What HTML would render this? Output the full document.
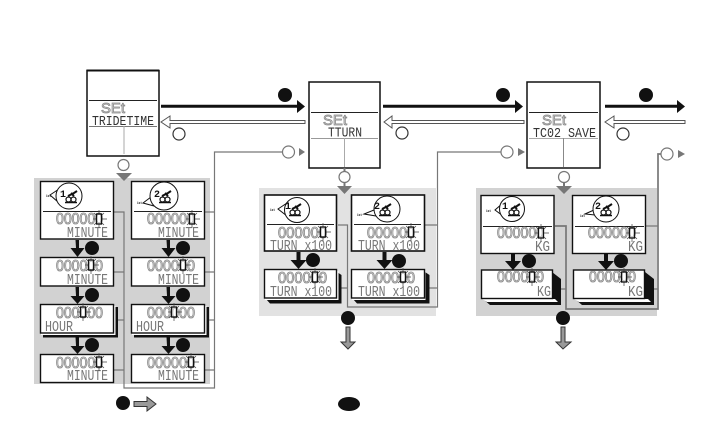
<!DOCTYPE html>
<html><head><meta charset="utf-8"><style>
html,body{margin:0;padding:0;background:#fff}
svg{display:block}
text{font-family:"Liberation Mono",monospace}
.d{font-family:"Liberation Sans",sans-serif;font-size:15.500px;fill:#f4f4f4;stroke:#888;stroke-width:.85}
.l{font-size:14.500px;fill:#777;stroke:none}
.s{font-family:"Liberation Sans",sans-serif;font-size:15px;fill:#ddd;stroke:#888;stroke-width:.8}
.t{font-size:13.500px;fill:#333;stroke:none}
.n{font-size:10px;fill:#111;font-weight:bold}
.i{font-size:4px;fill:#222;font-weight:bold}
</style></head><body>
<svg width="720" height="442" viewBox="0 0 720 442" xmlns="http://www.w3.org/2000/svg">
<defs>
<g id="star" fill="none">
<path d="M0-9V-5M0 5V9M-6 0H-3M3 0H8M-5-6L-3-4M5-6L3-4M-5 6L-3 4M5 6L3 4" stroke-width=".7" stroke="#444"/>
<rect x="-2.500" y="-5" width="5" height="10" fill="#fff" fill-opacity=".4" stroke="#111" stroke-width="1.300"/>
</g>
<g id="bike" fill="none" stroke="#111">
<path d="M-6 5.500H6" stroke-width="1.500"/>
<circle cx="-2.500" cy="2.500" r="2.500" stroke-width="1.200"/><circle cx="2.500" cy="2.500" r="2.500" stroke-width="1.200"/>
<path d="M-3-1L3-4L6-6M0-4L3-1" stroke-width="2"/>
</g>
</defs>
<rect x="34" y="178" width="176" height="206" fill="#d2d2d2"/>
<rect x="259" y="188" width="177" height="128" fill="#e2e2e2"/>
<rect x="476" y="188" width="181" height="128" fill="#d2d2d2"/>

<!-- connectors -->
<g fill="none" stroke="#777" stroke-width="1.200">
<path d="M114 212H124V388H214.500V152H283"/>
<path d="M204 212H214.500M114 272H124M204 272H214.500M114 320H124M204 320H214.500M114 370H124M204 370H214.500"/>
<path d="M338 225H347.500V307H437.500V152H501"/>
<path d="M424 225H437.500M336 288H347.500M424 288H437.500"/>
<path d="M555 226H566V309H658V154H661" stroke-width="1.700"/>
<path d="M646 226H658M554 289H566M646 289H658"/>
</g>
<path d="M299 148l6 4-6 4zM518 148l7 4-7 4zM678 150l7 4-7 4z" fill="#777"/>
<g fill="#fff" stroke="#777" stroke-width="1.200">
<circle cx="288.500" cy="152" r="6"/><circle cx="507" cy="152" r="6"/><circle cx="667" cy="154" r="6"/>
</g>

<!-- main boxes -->
<g fill="#fff" stroke="#111" stroke-width="1.500">
<rect x="87" y="70.500" width="72" height="85.500"/>
<rect x="309" y="82" width="71" height="86"/>
<rect x="527" y="82" width="73" height="86"/>
</g>
<path d="M86.500 70.500H159" stroke="#111" stroke-width="2"/>
<g stroke-width="1">
<path d="M89 100.500H157" stroke="#222"/><path d="M89 126.500H157" stroke="#777"/>
<path d="M124 126V154" stroke="#aaa"/>
<path d="M311 112.500H378" stroke="#222"/><path d="M311 138.500H378" stroke="#999"/>
<path d="M344.500 138V167" stroke="#aaa"/>
<path d="M529 112.500H598" stroke="#222"/><path d="M529 138.500H598" stroke="#aaa"/>
<path d="M563.500 138V167" stroke="#888"/>
</g>
<text x="101" y="113" class="s" textLength="24" lengthAdjust="spacingAndGlyphs">SEt</text>
<text x="92" y="125" class="t" textLength="62" lengthAdjust="spacingAndGlyphs">TRIDETIME</text>
<text x="323" y="125" class="s" textLength="24" lengthAdjust="spacingAndGlyphs">SEt</text>
<text x="328" y="136.500" class="t" textLength="34" lengthAdjust="spacingAndGlyphs">TTURN</text>
<text x="542" y="125" class="s" textLength="24" lengthAdjust="spacingAndGlyphs">SEt</text>
<text x="533" y="137" class="t" textLength="63" lengthAdjust="spacingAndGlyphs">TC02 SAVE</text>

<!-- top arrows -->
<g fill="#111">
<path d="M161 104.800H297V100L305 106.500 297 113V107.800H161z"/>
<path d="M383 104.800H515V100L523 106.500 515 113V107.800H383z"/>
<path d="M605 104.800H677V100L685 106.500 677 113V107.800H605z"/>
<circle cx="285" cy="95" r="7"/><circle cx="503" cy="95" r="7"/><circle cx="646" cy="95" r="7"/>
</g>
<g fill="#fff" stroke="#555" stroke-width="1">
<path d="M305 120.500H170V116L161 122 170 128V123.500H305z"/>
<path d="M524 120.500H392V116L384 122 392 128V123.500H524z"/>
<path d="M685 120.500H614V116L605 122 614 128V123.500H685z"/>
</g>
<g fill="#fff" stroke="#333" stroke-width="1.200">
<circle cx="179" cy="134" r="6"/><circle cx="402" cy="133" r="6"/><circle cx="623" cy="134" r="6"/>
</g>

<!-- down grey arrows under main boxes -->
<g fill="#777">
<path d="M116 173H132L124 181z"/><path d="M337 186H352L344.500 194z"/><path d="M556 186H572L564 194z"/>
<path d="M343.500 168h2v4h-2zM343.500 182h2v5h-2zM563 182h2v5h-2z"/>
</g>
<g fill="#fff" stroke="#777" stroke-width="1.200">
<circle cx="123.500" cy="165" r="5.500"/><circle cx="344.500" cy="177" r="5.500"/><circle cx="564" cy="177" r="5.500"/>
</g>

<!-- shadows -->
<g fill="#111">
<rect x="43" y="307" width="75" height="30.500"/><rect x="134" y="307" width="75" height="30.500"/>
<path d="M266 272H337L341.500 275V303.500H270L266 299z"/>
<path d="M353 272H425L429.500 275V303.500H357L353 299z"/>
<path d="M483 272H552L561 279V305H490L483 299z"/>
<path d="M575 272H645L654 279V305H582L575 299z"/>
</g>
<g fill="#fff">
<rect x="41" y="306" width="74.500" height="29"/><rect x="132" y="306" width="74.500" height="29"/>
<rect x="265" y="271" width="73.500" height="29"/><rect x="352" y="271" width="73.500" height="29"/>
<path d="M482 299H555L558 302H487z"/><path d="M574 299H648L651 302H579z"/>
</g>

<!-- LCD boxes -->
<g fill="#fff" stroke="#111" stroke-width="1.400">
<rect x="40.500" y="181.500" width="73" height="57.500"/><rect x="131.500" y="181.500" width="73" height="57.500"/>
<rect x="40.500" y="257.500" width="73" height="28.500"/><rect x="131.500" y="257.500" width="73" height="28.500"/>
<rect x="40.500" y="304.500" width="73" height="28.500"/><rect x="131.500" y="304.500" width="73" height="28.500"/>
<rect x="40.500" y="354.500" width="73" height="28"/><rect x="131.500" y="354.500" width="73" height="28"/>
<rect x="264.500" y="195" width="72" height="56" stroke-width="1.600"/><rect x="351.500" y="195" width="73" height="56" stroke-width="1.600"/>
<rect x="264.500" y="269.500" width="72" height="28.500"/><rect x="351.500" y="269.500" width="73" height="28.500"/>
<rect x="481" y="195.500" width="73" height="58"/><rect x="572.500" y="195.500" width="73" height="58"/>
<rect x="481.500" y="270" width="71" height="28.500"/><rect x="573.500" y="270" width="71" height="28.500"/>
</g>
<g stroke="#222" stroke-width="1">
<path d="M43 211.500H111M134 211.500H202M267 224.500H334M354 224.500H421M483 226.500H552M575 226.500H644"/>
</g>

<!-- bubbles -->
<g fill="#fff" stroke="#111" stroke-width="1">
<path d="M59 189L50 195 58 202M151 197L143 203 154 206M287 203L278 209 287 216M376 216L364 214 374 210M503 203L495 210 503 216M595 215L585 214 594 210" />
<circle cx="69" cy="196" r="13"/><circle cx="164" cy="196" r="14"/>
<circle cx="297" cy="210" r="12.500"/><circle cx="387" cy="209" r="13"/>
<circle cx="512" cy="209" r="12.500"/><circle cx="606" cy="209" r="13"/>
</g>
<g>
<text x="46" y="197" class="i" textLength="5" lengthAdjust="spacingAndGlyphs">1st</text>
<text x="137" y="204" class="i" textLength="5" lengthAdjust="spacingAndGlyphs">1st</text>
<text x="270" y="211" class="i" textLength="5" lengthAdjust="spacingAndGlyphs">1st</text>
<text x="357" y="216" class="i" textLength="5" lengthAdjust="spacingAndGlyphs">1st</text>
<text x="486" y="212" class="i" textLength="5" lengthAdjust="spacingAndGlyphs">1st</text>
<text x="580" y="217" class="i" textLength="5" lengthAdjust="spacingAndGlyphs">1st</text>
<text x="60" y="197" class="n">1</text><text x="154" y="197" class="n">2</text>
<text x="285" y="209" class="n">1</text><text x="374" y="209" class="n">2</text>
<text x="502" y="209" class="n">1</text><text x="595" y="209" class="n">2</text>
</g>
<use href="#bike" x="71" y="197"/><use href="#bike" x="165" y="197"/>
<use href="#bike" x="295" y="210"/><use href="#bike" x="385" y="210"/>
<use href="#bike" x="514" y="210"/><use href="#bike" x="606" y="210"/>

<!-- digits -->
<text x="56" y="224" class="d" textLength="47" lengthAdjust="spacingAndGlyphs">000000</text>
<text x="147" y="224" class="d" textLength="48" lengthAdjust="spacingAndGlyphs">000000</text>
<text x="56" y="271" class="d" textLength="47" lengthAdjust="spacingAndGlyphs">000000</text>
<text x="147" y="271" class="d" textLength="48" lengthAdjust="spacingAndGlyphs">000000</text>
<text x="56" y="318" class="d" textLength="47" lengthAdjust="spacingAndGlyphs">000000</text>
<text x="147" y="318" class="d" textLength="48" lengthAdjust="spacingAndGlyphs">000000</text>
<text x="56" y="368" class="d" textLength="47" lengthAdjust="spacingAndGlyphs">000000</text>
<text x="147" y="368" class="d" textLength="48" lengthAdjust="spacingAndGlyphs">000000</text>
<text x="278" y="238" class="d" textLength="49" lengthAdjust="spacingAndGlyphs">000000</text>
<text x="367" y="238" class="d" textLength="48" lengthAdjust="spacingAndGlyphs">000000</text>
<text x="278" y="283" class="d" textLength="49" lengthAdjust="spacingAndGlyphs">000000</text>
<text x="367" y="283" class="d" textLength="48" lengthAdjust="spacingAndGlyphs">000000</text>
<text x="497" y="238" class="d" textLength="47" lengthAdjust="spacingAndGlyphs">000000</text>
<text x="588" y="238" class="d" textLength="48" lengthAdjust="spacingAndGlyphs">000000</text>
<text x="497" y="282" class="d" textLength="47" lengthAdjust="spacingAndGlyphs">000000</text>
<text x="589" y="282" class="d" textLength="47" lengthAdjust="spacingAndGlyphs">000000</text>

<!-- labels -->
<text x="67" y="237" class="l" textLength="41" lengthAdjust="spacingAndGlyphs">MINUTE</text>
<text x="158" y="237" class="l" textLength="41" lengthAdjust="spacingAndGlyphs">MINUTE</text>
<text x="67" y="284" class="l" textLength="41" lengthAdjust="spacingAndGlyphs">MINUTE</text>
<text x="158" y="284" class="l" textLength="41" lengthAdjust="spacingAndGlyphs">MINUTE</text>
<text x="45" y="331" class="l" textLength="28" lengthAdjust="spacingAndGlyphs">HOUR</text>
<text x="136" y="331" class="l" textLength="28" lengthAdjust="spacingAndGlyphs">HOUR</text>
<text x="67" y="380" class="l" textLength="41" lengthAdjust="spacingAndGlyphs">MINUTE</text>
<text x="158" y="380" class="l" textLength="41" lengthAdjust="spacingAndGlyphs">MINUTE</text>
<text x="270" y="250" class="l" textLength="62" lengthAdjust="spacingAndGlyphs">TURN x100</text>
<text x="358" y="250" class="l" textLength="62" lengthAdjust="spacingAndGlyphs">TURN x100</text>
<text x="270" y="296" class="l" textLength="62" lengthAdjust="spacingAndGlyphs">TURN x100</text>
<text x="358" y="296" class="l" textLength="62" lengthAdjust="spacingAndGlyphs">TURN x100</text>
<text x="535" y="251" class="l" textLength="15" lengthAdjust="spacingAndGlyphs">KG</text>
<text x="628" y="251" class="l" textLength="15" lengthAdjust="spacingAndGlyphs">KG</text>
<text x="537" y="296" class="l" textLength="14" lengthAdjust="spacingAndGlyphs">KG</text>
<text x="628" y="296" class="l" textLength="15" lengthAdjust="spacingAndGlyphs">KG</text>

<!-- blink stars -->
<use href="#star" x="99" y="219"/><use href="#star" x="192" y="219"/>
<use href="#star" x="91" y="265"/><use href="#star" x="183" y="265"/>
<use href="#star" x="83" y="312"/><use href="#star" x="174" y="312"/>
<use href="#star" x="99" y="362"/><use href="#star" x="191" y="362"/>
<use href="#star" x="323" y="232"/><use href="#star" x="411" y="232"/>
<use href="#star" x="315" y="277"/><use href="#star" x="403" y="277"/>
<use href="#star" x="541" y="233"/><use href="#star" x="632" y="233"/>
<use href="#star" x="532" y="277"/><use href="#star" x="624" y="277"/>

<!-- black down arrows -->
<g fill="#111">
<path d="M75.500 240h3.500v8h5.500l-7 9-7-9h5.500zM166.500 240h3.500v8h5.500l-7 9-7-9h5.500z"/>
<path d="M75.500 287h3.500v9h5.500l-7 8-7-8h5.500zM166.500 287h3.500v9h5.500l-7 8-7-8h5.500z"/>
<path d="M75.500 337h3.500v9h5.500l-7 8-7-8h5.500zM166.500 337h3.500v9h5.500l-7 8-7-8h5.500z"/>
<path d="M296.500 252h4v8h6l-8 9-8-9h6zM382.500 252h4v8h6l-8 9-8-9h6z"/>
<path d="M511 254h4v7h6l-8 9-8-9h6zM604 254h4v7h6l-8 9-8-9h6z"/>
<circle cx="92" cy="248" r="7"/><circle cx="183" cy="248" r="7"/>
<circle cx="92" cy="295" r="7"/><circle cx="183" cy="295" r="7"/>
<circle cx="92" cy="345" r="7"/><circle cx="183" cy="345" r="7"/>
<circle cx="313" cy="260" r="7"/><circle cx="399" cy="261" r="7"/>
<circle cx="529" cy="261" r="7"/><circle cx="621" cy="261" r="7"/>
<circle cx="348" cy="318" r="7"/><circle cx="563" cy="318" r="7"/>
<circle cx="123" cy="403" r="7"/>
<ellipse cx="349" cy="404" rx="11" ry="7"/>
</g>
<!-- grey outline arrows -->
<g fill="#999" stroke="#333" stroke-width="1">
<path d="M346 327H350V342H355L348 349 341 342H346z"/>
<path d="M561 327H565V342H571L563 349 556 342H561z"/>
<path d="M134 401.500H147V397L156 404 147 411V406.500H134z"/>
</g>
</svg>
</body></html>
